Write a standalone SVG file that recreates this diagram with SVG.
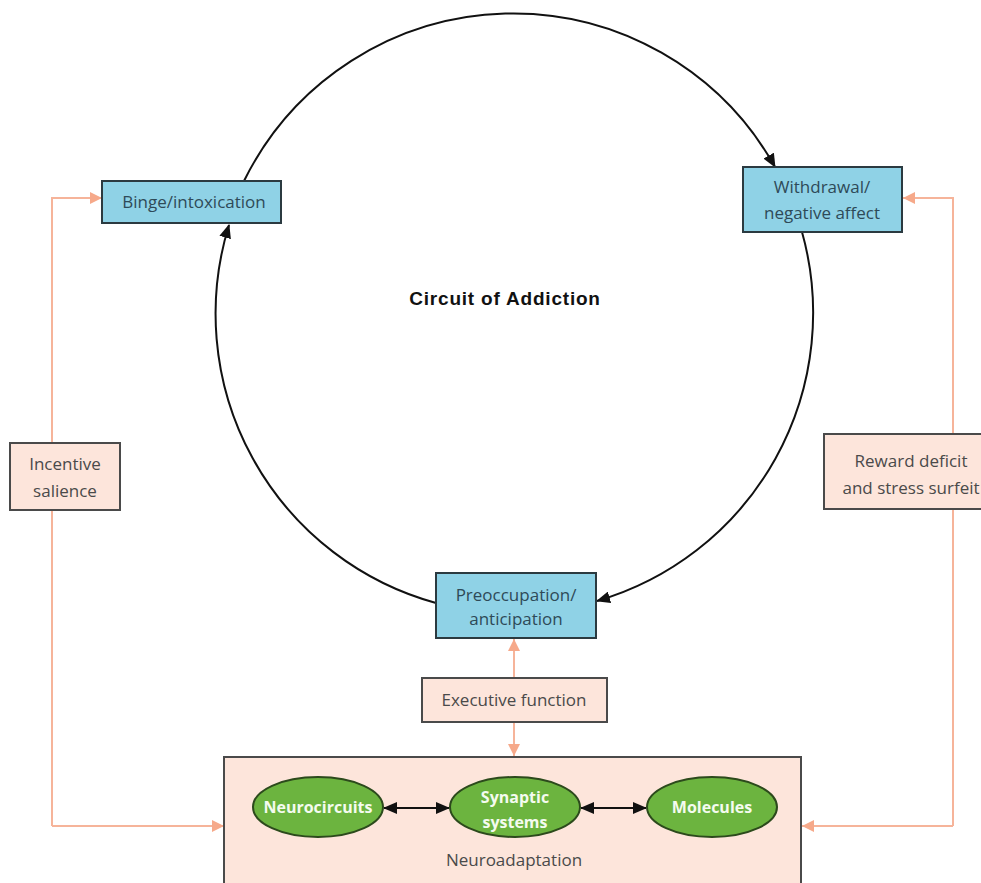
<svg xmlns="http://www.w3.org/2000/svg" width="981" height="883" viewBox="0 0 981 883">
<style>
  .blue rect{fill:#8fd2e6;stroke:#2b3a40;stroke-width:2}
  .pink rect{fill:#fde5db;stroke:#4a4a4a;stroke-width:2}
  .bt{font-family:"Open Sans","Liberation Sans",Arial,sans-serif;font-size:17px;fill:#2e4a58;text-anchor:middle}
  .pt{font-family:"Open Sans","Liberation Sans",Arial,sans-serif;font-size:17px;fill:#4a4a4a;text-anchor:middle}
  .el ellipse{fill:#6cb43f;stroke:#2c4a1c;stroke-width:2}
  .wt{font-family:"Open Sans","Liberation Sans",Arial,sans-serif;font-size:16px;fill:#f4fbef;text-anchor:middle;font-weight:bold}
  .circ{fill:none;stroke:#111;stroke-width:2;marker-end:url(#ah)}
  .sal{fill:none;stroke:#f6b49a;stroke-width:2}
  .dbl{stroke:#111;stroke-width:2;marker-start:url(#dh);marker-end:url(#dh)}
</style>
<defs>
  <marker id="ah" viewBox="0 0 14 12" refX="13" refY="6" markerWidth="14" markerHeight="12" markerUnits="userSpaceOnUse" orient="auto">
    <path d="M0,0 L14,6 L0,12 Z" fill="#111"/>
  </marker>
  <marker id="sh" viewBox="0 0 12 12" refX="12" refY="6" markerWidth="12" markerHeight="12" markerUnits="userSpaceOnUse" orient="auto">
    <path d="M0,0 L12,6 L0,12 Z" fill="#f6a98a"/>
  </marker>
  <marker id="dh" viewBox="0 0 14 12" refX="13" refY="6" markerWidth="14" markerHeight="12" markerUnits="userSpaceOnUse" orient="auto-start-reverse">
    <path d="M0,0 L14,6 L0,12 Z" fill="#111"/>
  </marker>
</defs>
<rect width="981" height="883" fill="#ffffff"/>

<g id="connectors">
  <path class="circ" d="M244,181 A300,300 0 0 1 775,167"/>
  <path class="circ" d="M802,232 A300,300 0 0 1 597,601"/>
  <path class="circ" d="M436,603 A300,300 0 0 1 229,225"/>
  <path class="sal" d="M52,826 L52,198 L102,198" marker-end="url(#sh)"/>
  <path class="sal" d="M52,826 L224,826" marker-end="url(#sh)"/>
  <path class="sal" d="M953,826 L953,198 L903,198" marker-end="url(#sh)"/>
  <path class="sal" d="M953,826 L802,826" marker-end="url(#sh)"/>
  <path class="sal" d="M514,678 L514,639" marker-end="url(#sh)"/>
  <path class="sal" d="M514,722 L514,756" marker-end="url(#sh)"/>
</g>

<text x="505" y="305" font-family="Liberation Sans,Arial,sans-serif" font-size="19" font-weight="bold" letter-spacing="0.8" fill="#111" text-anchor="middle">Circuit of Addiction</text>

<g id="binge" class="blue">
  <rect x="102" y="181" width="179" height="42"/>
  <text class="bt" x="194" y="208">Binge/intoxication</text>
</g>
<g id="withdrawal" class="blue">
  <rect x="743" y="167" width="159" height="65"/>
  <text class="bt" x="822" y="193">Withdrawal/</text>
  <text class="bt" x="822" y="219">negative affect</text>
</g>
<g id="preoccupation" class="blue">
  <rect x="436" y="573" width="160" height="65"/>
  <text class="bt" x="516" y="601">Preoccupation/</text>
  <text class="bt" x="516" y="625">anticipation</text>
</g>
<g id="incentive" class="pink">
  <rect x="10" y="443" width="110" height="67"/>
  <text class="pt" x="65" y="470">Incentive</text>
  <text class="pt" x="65" y="497">salience</text>
</g>
<g id="reward" class="pink">
  <rect x="824" y="434" width="165" height="75"/>
  <text class="pt" x="911" y="467">Reward deficit</text>
  <text class="pt" x="911" y="494">and stress surfeit</text>
</g>
<g id="executive" class="pink">
  <rect x="422" y="678" width="185" height="44"/>
  <text class="pt" x="514" y="706">Executive function</text>
</g>
<g id="neuroadaptation" class="pink">
  <rect x="224" y="757" width="577" height="140"/>
  <text class="pt" x="514" y="866">Neuroadaptation</text>
</g>
<g id="arrows-inner">
  <line class="dbl" x1="384" y1="808" x2="449" y2="808"/>
  <line class="dbl" x1="581" y1="808" x2="646" y2="808"/>
</g>
<g id="neurocircuits" class="el">
  <ellipse cx="318" cy="807" rx="65" ry="30"/>
  <text class="wt" x="318" y="813">Neurocircuits</text>
</g>
<g id="synaptic" class="el">
  <ellipse cx="515" cy="807" rx="65" ry="30"/>
  <text class="wt" x="515" y="803">Synaptic</text>
  <text class="wt" x="515" y="828">systems</text>
</g>
<g id="molecules" class="el">
  <ellipse cx="712" cy="807" rx="65" ry="30"/>
  <text class="wt" x="712" y="813">Molecules</text>
</g>
</svg>
